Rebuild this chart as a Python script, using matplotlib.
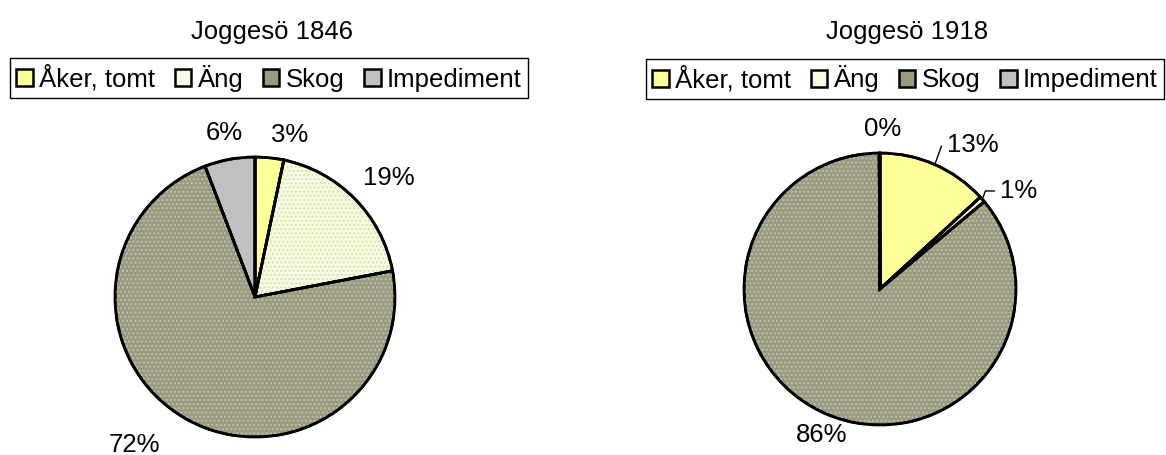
import matplotlib
matplotlib.use("Agg")
import matplotlib.pyplot as plt
from matplotlib.patches import Patch, Wedge
import numpy as np

plt.rcParams['font.family'] = ['Liberation Sans', 'DejaVu Sans']

categories = ["Åker, tomt", "Äng", "Skog", "Impediment"]
values_1846 = [3.3, 18.7, 72.2, 5.8]
values_1918 = [13.2, 0.7, 86.0, 0.1]
titles = ["Joggesö 1846", "Joggesö 1918"]

colors = ["#FFFF99", "#F8FAE6", "#9A9A80", "#C0C0C0"]
dot_colors = [None, "#D6E6A0", "#C0C0A6", None]

W, H = 1166, 455
fig = plt.figure(figsize=(W / 100, H / 100), dpi=100)
FS = 18.5


def add_pie(cx, cy, r, vals, title, tx, ty, legx, legy, label_specs):
    ax = fig.add_axes([(cx - r) / W, (H - cy - r) / H, 2 * r / W, 2 * r / H])
    wedges, _ = ax.pie(vals, colors=colors, startangle=90, counterclock=False,
                       radius=1.0, wedgeprops=dict(edgecolor="black", linewidth=2))
    for w, dc in zip(wedges, dot_colors):
        if dc is None:
            continue
        hw = Wedge(w.center, w.r, w.theta1, w.theta2, facecolor="none",
                   edgecolor=dc, hatch="....", linewidth=0, zorder=w.get_zorder() + 0.1)
        ax.add_patch(hw)
    for w in wedges:
        ow = Wedge(w.center, w.r, w.theta1, w.theta2, facecolor="none",
                   edgecolor="black", linewidth=2, zorder=w.get_zorder() + 0.2)
        ax.add_patch(ow)
    ax.set_xlim(-1, 1)
    ax.set_ylim(-1, 1)
    ax.set_aspect("equal")
    ax.axis("off")
    total = sum(vals)
    for w, v, spec in zip(wedges, vals, label_specs):
        mid = np.deg2rad((w.theta1 + w.theta2) / 2)
        txt = f"{round(v / total * 100):.0f}%"
        dist, dang, leader = spec
        ang = mid + np.deg2rad(dang)
        x, y = dist * np.cos(ang), dist * np.sin(ang)
        if leader:
            ex, ey = np.cos(mid), np.sin(mid)
            ax.annotate(txt, xy=(ex, ey), xytext=(x, y), fontsize=FS, ha="left", va="center",
                        annotation_clip=False,
                        arrowprops=dict(arrowstyle="-", color="black", lw=1,
                                        shrinkA=2, shrinkB=0,
                                        connectionstyle="angle,angleA=0,angleB=70,rad=0"))
        else:
            ax.text(x, y, txt, fontsize=FS, ha="center", va="center", clip_on=False)
    fig.text(tx / W, 1 - ty / H, title, fontsize=FS, ha="center", va="center")
    handles = [Patch(facecolor=c, edgecolor="black", linewidth=1.8) for c in colors]
    fig.legend(handles, categories, loc="center", bbox_to_anchor=(legx / W, 1 - legy / H),
               ncol=4, fontsize=FS, frameon=True, fancybox=False, framealpha=1,
               edgecolor="black", handlelength=0.65, handleheight=0.65,
               handletextpad=0.25, columnspacing=0.75, borderpad=0.25, borderaxespad=0)


add_pie(255, 297, 140, values_1846, titles[0], 272, 32, 269, 78,
        [(1.18, -6, False), (1.28, -3, False), (1.36, -10, False), (1.19, 0, False)])
add_pie(880, 289, 136, values_1918, titles[1], 907, 32, 905, 79,
        [(1.17, -1, True), (1.14, -2, True), (1.16, 3, False), (1.18, -1, False)])

fig.savefig("out.png", dpi=100, facecolor="white")
